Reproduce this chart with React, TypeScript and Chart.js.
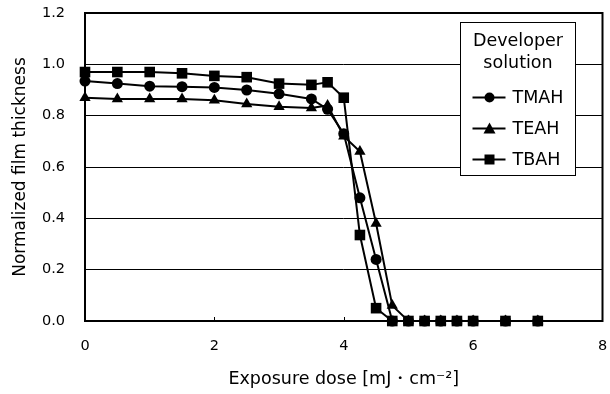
import React, { useEffect, useRef } from "react";
import { Chart, registerables } from "chart.js";

Chart.register(...registerables);

const doses = [0, 0.5, 1, 1.5, 2, 2.5, 3, 3.5, 3.75, 4, 4.25, 4.5, 4.75, 5, 5.25, 5.5, 5.75, 6, 6.5, 7];
const tmah = [0.935, 0.925, 0.915, 0.913, 0.91, 0.9, 0.885, 0.865, 0.825, 0.73, 0.48, 0.24, 0, 0, 0, 0, 0, 0, 0, 0];
const teah = [0.87, 0.865, 0.865, 0.865, 0.86, 0.845, 0.835, 0.83, 0.84, 0.72, 0.66, 0.38, 0.06, 0, 0, 0, 0, 0, 0, 0];
const tbah = [0.97, 0.97, 0.97, 0.965, 0.955, 0.95, 0.925, 0.92, 0.93, 0.87, 0.335, 0.05, 0, 0, 0, 0, 0, 0, 0, 0];

const seriesNames = ["TMAH", "TEAH", "TBAH"];
const seriesMarkers = ["circle", "triangle", "rect"];
const legendTitle = ["Developer", "solution"];
const xTitle = "Exposure dose [mJ・cm⁻²]";
const yTitle = "Normalized film thickness";

const FONT = "'DejaVu Sans', sans-serif";

const frameAndLegend = {
  id: "frameAndLegend",
  afterDatasetsDraw(chart: any) {
    const { ctx, chartArea } = chart;
    const xs = chart.scales.x;
    ctx.save();
    ctx.strokeStyle = "#000";
    ctx.lineWidth = 1;
    for (let v = 2; v < 8; v += 2) {
      const px = Math.round(xs.getPixelForValue(v)) + 0.5;
      ctx.beginPath();
      ctx.moveTo(px, chartArea.bottom);
      ctx.lineTo(px, chartArea.bottom - 4);
      ctx.stroke();
    }
    ctx.lineWidth = 2;
    ctx.strokeRect(chartArea.left, chartArea.top, chartArea.right - chartArea.left, chartArea.bottom - chartArea.top);

    const bx = Math.round(chartArea.right - 143) + 0.5;
    const by = Math.round(chartArea.top + 9) + 0.5;
    const bw = 115;
    const bh = 153;
    ctx.fillStyle = "#fff";
    ctx.fillRect(bx, by, bw, bh);
    ctx.lineWidth = 1;
    ctx.strokeRect(bx, by, bw, bh);
    ctx.fillStyle = "#000";
    ctx.font = `17.5px ${FONT}`;
    ctx.textAlign = "center";
    ctx.textBaseline = "middle";
    ctx.fillText(legendTitle[0], bx + bw / 2, by + 19);
    ctx.fillText(legendTitle[1], bx + bw / 2, by + 41);
    ctx.textAlign = "left";
    seriesNames.forEach((name, i) => {
      const cy = by + 75 + i * 31;
      ctx.lineWidth = 2;
      ctx.beginPath();
      ctx.moveTo(bx + 12, cy);
      ctx.lineTo(bx + 45, cy);
      ctx.stroke();
      const m = seriesMarkers[i];
      const mx = bx + 29;
      ctx.beginPath();
      if (m === "circle") {
        ctx.arc(mx, cy, 5, 0, Math.PI * 2);
      } else if (m === "triangle") {
        ctx.moveTo(mx, cy - 6);
        ctx.lineTo(mx + 6, cy + 5);
        ctx.lineTo(mx - 6, cy + 5);
        ctx.closePath();
      } else {
        ctx.rect(mx - 5, cy - 5, 10, 10);
      }
      ctx.fill();
      ctx.fillText(name, bx + 52, cy + 1);
    });
    ctx.restore();
  },
};

export default function App() {
  const ref = useRef<HTMLCanvasElement | null>(null);
  useEffect(() => {
    document.body.style.margin = "0";
    const mk = (label: string, data: number[], style: string, radius: number, order: number) => ({
      label,
      data: doses.map((x, i) => ({ x, y: data[i] })),
      borderColor: "#000",
      backgroundColor: "#000",
      borderWidth: 2,
      pointStyle: style,
      pointRadius: radius,
      pointBorderWidth: 0,
      pointBackgroundColor: "#000",
      order,
      tension: 0,
      clip: false,
    });
    const chart = new Chart(ref.current as HTMLCanvasElement, {
      type: "line",
      data: {
        datasets: [
          mk(seriesNames[0], tmah, "circle", 5.5, 1),
          mk(seriesNames[1], teah, "triangle", 6.5, 2),
          mk(seriesNames[2], tbah, "rect", 7.5, 0),
        ],
      },
      options: {
        animation: false,
        responsive: false,
        devicePixelRatio: 1,
        layout: { padding: { top: 13, right: 5, left: 0, bottom: 0 } },
        plugins: { legend: { display: false }, tooltip: { enabled: false } },
        scales: {
          x: {
            type: "linear",
            min: 0,
            max: 8,
            ticks: { stepSize: 2, color: "#000", font: { family: FONT, size: 14.5 }, padding: 17, maxRotation: 0 },
            grid: { display: false, drawTicks: false },
            border: { display: false },
            title: { display: true, text: xTitle, color: "#000", font: { family: FONT, size: 17.5 }, padding: { top: 0, bottom: 4 } },
            afterFit: (s: any) => { s.height = 73; s.paddingLeft = 0; s.paddingRight = 0; },
          },
          y: {
            min: 0,
            max: 1.2,
            ticks: {
              stepSize: 0.2,
              color: "#000",
              font: { family: FONT, size: 14.5 },
              padding: 20,
              callback: (v: any) => Number(v).toFixed(1),
            },
            grid: { color: "#000", lineWidth: 1, drawTicks: false },
            border: { display: false },
            title: { display: true, text: yTitle, color: "#000", font: { family: FONT, size: 17 }, padding: { top: 10, bottom: 0 } },
            afterFit: (s: any) => { s.width = 85; s.paddingTop = 0; s.paddingBottom = 0; },
          },
        },
      },
      plugins: [frameAndLegend],
    } as any);
    return () => chart.destroy();
  }, []);
  return (
    <div style={{ width: 610, height: 394 }}>
      <canvas ref={ref} width={610} height={394} style={{ display: "block" }} />
    </div>
  );
}
